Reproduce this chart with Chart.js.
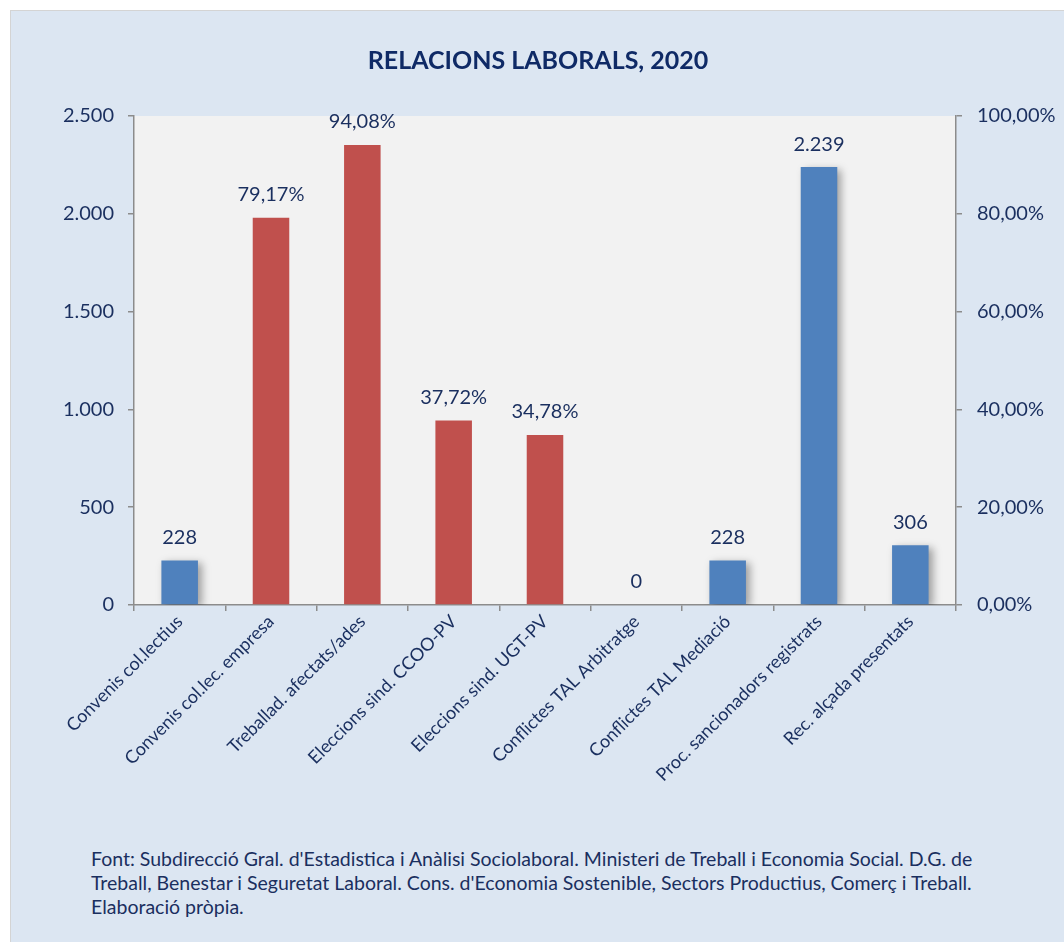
<!DOCTYPE html>
<html>
<head>
<meta charset="utf-8">
<script src="https://cdn.jsdelivr.net/npm/chart.js@4.4.1/dist/chart.umd.min.js"></script>
<style>
    body { margin: 0; background: #ffffff; font-family: Lato, sans-serif; }
    #panel {
        position: absolute; left: 10px; top: 10px; width: 1054px; height: 932px;
        background: #dce6f2; border-left: 1px solid #d4d4d4; border-top: 1px solid #d4d4d4;
        box-sizing: border-box;
    }
    #wrap { position: absolute; left: 0; top: 0; width: 1054px; height: 830px; }
    #footer {
        position: absolute; left: 80px; top: 836px; font-size: 19.5px; line-height: 24px;
        color: #1a2f5f; white-space: nowrap;
    }
</style>
</head>
<body>
<div id="panel">
    <div id="wrap"><canvas id="chart"></canvas></div>
    <div id="footer">
        Font: Subdirecció Gral. d'Estadistica i Anàlisi Sociolaboral. Ministeri de Treball i Economia Social. D.G. de<br>
        Treball, Benestar i Seguretat Laboral. Cons. d'Economia Sostenible, Sectors Productius, Comerç i Treball.<br>
        Elaboració pròpia.
    </div>
</div>
<script>
// Categories and values
const categories = [
    'Convenis col.lectius',
    'Convenis col.lec. empresa',
    'Treballad. afectats/ades',
    'Eleccions sind. CCOO-PV',
    'Eleccions sind. UGT-PV',
    'Conflictes TAL Arbitratge',
    'Conflictes TAL Mediació',
    'Proc. sancionadors registrats',
    'Rec. alçada presentats'
];
// Counts (left axis)
const countValues = [228, null, null, null, null, 0, 228, 2239, 306];
// Percentages (right axis)
const percentValues = [null, 79.17, 94.08, 37.72, 34.78, null, null, null, null];

const TEXT = '#1a2f5f';
const AXIS = '#8c8c8c';

function fmtThousands(v) {
    return String(Math.round(v)).replace(/\B(?=(\d{3})+(?!\d))/g, '.');
}
function fmtPercent(v) {
    return v.toFixed(2).replace('.', ',') + '%';
}

Chart.defaults.font.family = 'Lato, sans-serif';
Chart.defaults.color = TEXT;

// Light grey plot area
const plotBackground = {
    id: 'plotBackground',
    beforeDraw(chart) {
        const { ctx, chartArea: a } = chart;
        ctx.save();
        ctx.fillStyle = '#f2f2f2';
        ctx.fillRect(a.left, a.top, a.right - a.left, a.bottom - a.top);
        ctx.restore();
    }
};

// Soft shadow behind the blue bars
const barShadow = {
    id: 'barShadow',
    beforeDatasetDraw(chart, args) {
        if (args.index !== 0) return;
        const ctx = chart.ctx;
        ctx.save();
        ctx.shadowColor = 'rgba(0,0,0,0.35)';
        ctx.shadowBlur = 8;
        ctx.shadowOffsetX = 4;
        ctx.shadowOffsetY = 3;
    },
    afterDatasetDraw(chart, args) {
        if (args.index !== 0) return;
        chart.ctx.restore();
    }
};

// Value labels above the bars
const valueLabels = {
    id: 'valueLabels',
    afterDatasetsDraw(chart) {
        const ctx = chart.ctx;
        ctx.save();
        ctx.font = '20px Lato, sans-serif';
        ctx.fillStyle = TEXT;
        ctx.textAlign = 'center';
        ctx.textBaseline = 'middle';
        chart.data.datasets.forEach((ds, di) => {
            const meta = chart.getDatasetMeta(di);
            meta.data.forEach((bar, i) => {
                const v = ds.data[i];
                if (v === null || v === undefined) return;
                const txt = di === 0 ? fmtThousands(v) : fmtPercent(v);
                ctx.fillText(txt, bar.x, bar.y - 23);
            });
        });
        ctx.restore();
    }
};

new Chart(document.getElementById('chart'), {
    type: 'bar',
    data: {
        labels: categories,
        datasets: [
            {
                label: 'Nombre',
                data: countValues,
                backgroundColor: '#4f81bd',
                yAxisID: 'y',
                grouped: false,
                barPercentage: 0.4,
                categoryPercentage: 1
            },
            {
                label: 'Percentatge',
                data: percentValues,
                backgroundColor: '#c0504d',
                yAxisID: 'y1',
                grouped: false,
                barPercentage: 0.4,
                categoryPercentage: 1
            }
        ]
    },
    options: {
        responsive: true,
        maintainAspectRatio: false,
        animation: false,
        layout: { padding: 0 },
        plugins: {
            legend: { display: false },
            tooltip: { enabled: false },
            title: {
                display: true,
                text: 'RELACIONS LABORALS, 2020',
                color: '#0f2a66',
                font: { size: 25, weight: 'bold' },
                padding: { top: 35, bottom: 40 }
            }
        },
        scales: {
            x: {
                border: { display: true, color: AXIS, width: 1.5 },
                grid: { display: true, drawOnChartArea: false, drawTicks: true, tickLength: 6, color: AXIS, lineWidth: 1.5 },
                ticks: { maxRotation: 45, minRotation: 45, autoSkip: false, font: { size: 18 }, color: TEXT, padding: 0 },
                afterFit(scale) { scale.height = 236; }
            },
            y: {
                position: 'left',
                min: 0, max: 2500,
                border: { display: true, color: AXIS, width: 1.5 },
                grid: { display: true, drawOnChartArea: false, drawTicks: true, tickLength: 6, color: AXIS, lineWidth: 1.5 },
                ticks: { stepSize: 500, font: { size: 20 }, color: TEXT, padding: 14, callback: v => fmtThousands(v) },
                afterFit(scale) { scale.width = 123; }
            },
            y1: {
                position: 'right',
                min: 0, max: 100,
                border: { display: true, color: AXIS, width: 1.5 },
                grid: { display: true, drawOnChartArea: false, drawTicks: true, tickLength: 6, color: AXIS, lineWidth: 1.5 },
                ticks: { stepSize: 20, font: { size: 20 }, color: TEXT, padding: 15, callback: v => fmtPercent(v) },
                afterFit(scale) { scale.width = 109; }
            }
        }
    },
    plugins: [plotBackground, barShadow, valueLabels]
});
</script>
</body>
</html>
